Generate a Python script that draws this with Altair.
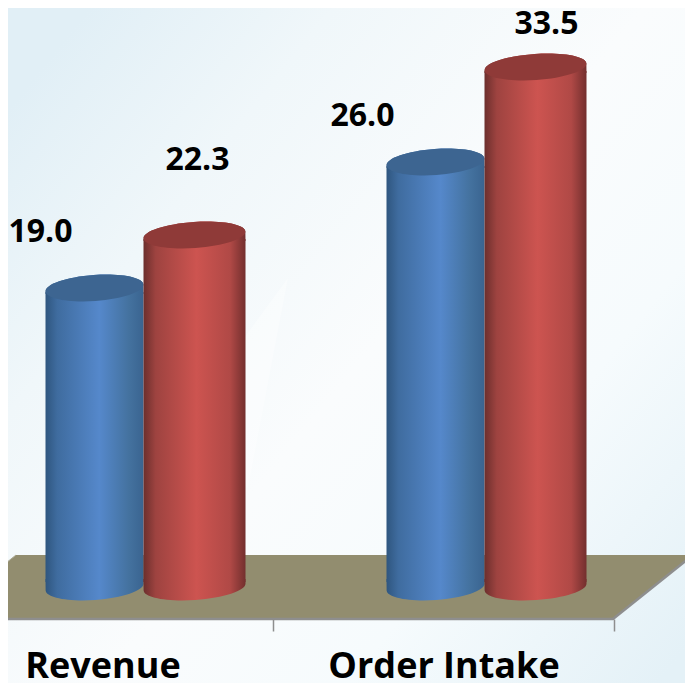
import math
import altair as alt
import pandas as pd

# ---- data ----
categories = ["Revenue", "Order Intake"]
series = ["Series 1", "Series 2"]
series1_values = [19.0, 26.0]
series2_values = [22.3, 33.5]

FONT = "Open Sans"
W, H = 677, 675

# drawn heights in the reference are not proportional to the labels:
# piecewise scale maps labelled values on to the drawn heights
y_domain = [0, 19.0, 22.3, 26.0, 33.5]
y_range = [574, 284, 231, 158, 63]

rows = []
for c, a, b in zip(categories, series1_values, series2_values):
    rows.append({"cat": c, "series": series[0], "value": a, "base": 0})
    rows.append({"cat": c, "series": series[1], "value": b, "base": 0})
df = pd.DataFrame(rows)

x_enc = alt.X("cat:N", sort=categories,
              scale=alt.Scale(domain=categories, range=[-34, 648], paddingInner=0, paddingOuter=0),
              title=None,
              axis=alt.Axis(domain=False, bandPosition=1, tickExtra=True, tickOffset=-42,
                            tickSize=12, tickColor="#8e8e8e", tickWidth=1.5,
                            labelAngle=0, labelFont=FONT, labelFontWeight="bold",
                            labelFontSize=36, labelColor="#000000", labelPadding=18,
                            labelLimit=400, labelFlush=False, labelOverlap=False,
                            labelBaseline="top", grid=False, zindex=1))
xo_enc = alt.XOffset("series:N", sort=series,
                     scale=alt.Scale(domain=series, paddingInner=0, paddingOuter=0.705))
y_scale = alt.Scale(domain=y_domain, range=y_range, clamp=False)


def ell_pt(a, b, tilt, t, cy=0.0):
    x = a * math.cos(t)
    y = b * math.sin(t)
    return (x * math.cos(tilt) - y * math.sin(tilt), x * math.sin(tilt) + y * math.cos(tilt) + cy)


def arc(a, b, tilt, t0, t1, cy):
    """cubic Bezier segments for an elliptical arc from angle t0 to t1"""
    out = []
    n = max(1, int(abs(t1 - t0) / (math.pi / 2) + 0.999))
    dt = (t1 - t0) / n
    k = 4 / 3 * math.tan(dt / 4)
    for i in range(n):
        s = t0 + i * dt
        e = s + dt
        def d(t):
            x = -a * math.sin(t)
            y = b * math.cos(t)
            return (x * math.cos(tilt) - y * math.sin(tilt), x * math.sin(tilt) + y * math.cos(tilt))
        p0 = ell_pt(a, b, tilt, s, cy)
        p3 = ell_pt(a, b, tilt, e, cy)
        d0 = d(s)
        d3 = d(e)
        out.append("C%.2f %.2f %.2f %.2f %.2f %.2f" % (
            p0[0] + k * d0[0], p0[1] + k * d0[1], p3[0] - k * d3[0], p3[1] - k * d3[1], p3[0], p3[1]))
    return " ".join(out)


def cap_path(w, lift=4):
    a, b, tilt = w / 2, 13, -math.atan(7 / w)
    s = ell_pt(a, b, tilt, math.pi, -lift)
    return "M%.2f %.2f " % s + arc(a, b, tilt, math.pi, 3 * math.pi, -lift) + " Z"


def collar_path(w, lift=4):
    a, b, tilt = w / 2, 13, -math.atan(7 / w)
    s = ell_pt(a, b, tilt, math.pi, -lift)
    return ("M%.2f %.2f " % s + arc(a, b, tilt, math.pi, 2 * math.pi, -lift)
            + " L%.2f 2 L%.2f 2 Z" % (a, -a))


def bottom_path(w, drop=5):
    a, b, tilt = w / 2, 13, -math.atan(7 / w)
    s = ell_pt(a, b, tilt, 0, drop)
    return ("M%.2f -3 L%.2f -3 L%.2f %.2f " % (-a, a, a, s[1]) + arc(a, b, tilt, 0, math.pi, drop) + " Z")


def side_gradient(stops):
    return alt.Gradient(gradient="linear", x1=0, x2=1, y1=0, y2=0,
                        stops=[alt.GradientStop(offset=o, color=c) for o, c in stops])


blue_grad = side_gradient([(0, "#2f567f"), (0.12, "#3f6c9f"), (0.55, "#5588cb"), (0.85, "#44729f"), (1, "#3a6490")])
red_grad = side_gradient([(0, "#6c2f2d"), (0.12, "#9e4340"), (0.52, "#cd5450"), (0.85, "#b04946"), (1, "#732f2e")])

one = pd.DataFrame({"a": [0]})
anchor = alt.Chart(one)


def poly(path, fill=None, stroke=None, sw=0, opacity=1):
    kw = dict(shape=path, size=4, opacity=opacity, strokeWidth=sw)
    if fill is not None:
        kw.update(filled=True, fill=fill)
    else:
        kw.update(filled=False, fill="transparent")
    if stroke is not None:
        kw.update(stroke=stroke)
    else:
        kw.update(strokeWidth=0)
    return anchor.mark_point(**kw).encode(x=alt.value(0), y=alt.value(0))


bg = anchor.mark_rect(
    fill=alt.Gradient(gradient="linear", x1=0, y1=0.15, x2=1, y2=0.95, stops=[
        alt.GradientStop(offset=0, color="#e1eff6"),
        alt.GradientStop(offset=0.22, color="#f0f7fa"),
        alt.GradientStop(offset=0.5, color="#fafcfd"),
        alt.GradientStop(offset=0.72, color="#f6fbfd"),
        alt.GradientStop(offset=1, color="#e4f1f7"),
    ])
).encode(x=alt.value(0), x2=alt.value(W), y=alt.value(0), y2=alt.value(H))

facet1 = poly("M170 420 L280 270 L240 480 Z", fill="#ffffff", opacity=0.35)

floor = poly("M-72 611 L8 547 L685 547 L605 611 Z", fill="#928d6f")
floor_front = poly("M-72 611 L605 611 L685 547", stroke="#8e8e8e", sw=2.5)
floor_left = poly("M-72 611 L8 547", stroke="#a8a690", sw=1)


def cylinder(name, w, grad, cap_color):
    d = df[df["series"] == name]
    base = alt.Chart(d)
    enc = dict(x=x_enc, xOffset=xo_enc)
    body = base.mark_bar(size=w, fill=grad, strokeWidth=0).encode(
        y=alt.Y("value:Q", scale=y_scale, axis=None, title=None),
        y2=alt.Y2("base:Q"), **enc)
    bottom = base.mark_point(shape=bottom_path(w), size=4, filled=True, fill=grad, opacity=1, strokeWidth=0).encode(
        y=alt.Y("base:Q", scale=y_scale, axis=None, title=None), **enc)
    collar = base.mark_point(shape=collar_path(w), size=4, filled=True, fill=grad, opacity=1, strokeWidth=0).encode(
        y=alt.Y("value:Q", scale=y_scale, axis=None, title=None), **enc)
    cap = base.mark_point(shape=cap_path(w), size=4, filled=True, fill=cap_color, opacity=1, strokeWidth=0).encode(
        y=alt.Y("value:Q", scale=y_scale, axis=None, title=None), **enc)
    return [body, bottom, collar, cap]


def value_label(cat, name, dx, dy):
    d = df[(df["cat"] == cat) & (df["series"] == name)]
    return alt.Chart(d).mark_text(font=FONT, fontWeight="bold", fontSize=32, color="#000000",
                                  dx=dx, dy=dy).encode(
        x=x_enc, xOffset=xo_enc,
        y=alt.Y("value:Q", scale=y_scale, axis=None, title=None),
        text=alt.Text("value:Q", format=".1f"),
    )


labels = [
    value_label("Revenue", series[0], -54, -60),
    value_label("Revenue", series[1], 3, -79),
    value_label("Order Intake", series[0], -73, -50),
    value_label("Order Intake", series[1], 11, -47),
]

layers = [bg, facet1, floor, floor_front, floor_left]
layers += cylinder(series[0], 98, blue_grad, "#3d6591")
layers += cylinder(series[1], 102, red_grad, "#8f3a38")
layers += labels

chart = alt.layer(*layers).properties(
    width=W, height=611,
    autosize=alt.AutoSizeParams(type="none"),
    padding={"left": 0, "top": 0, "right": 0, "bottom": 64},
).configure_view(stroke=None)

chart.save("out.html", embed_options={"renderer": "svg", "actions": False})
